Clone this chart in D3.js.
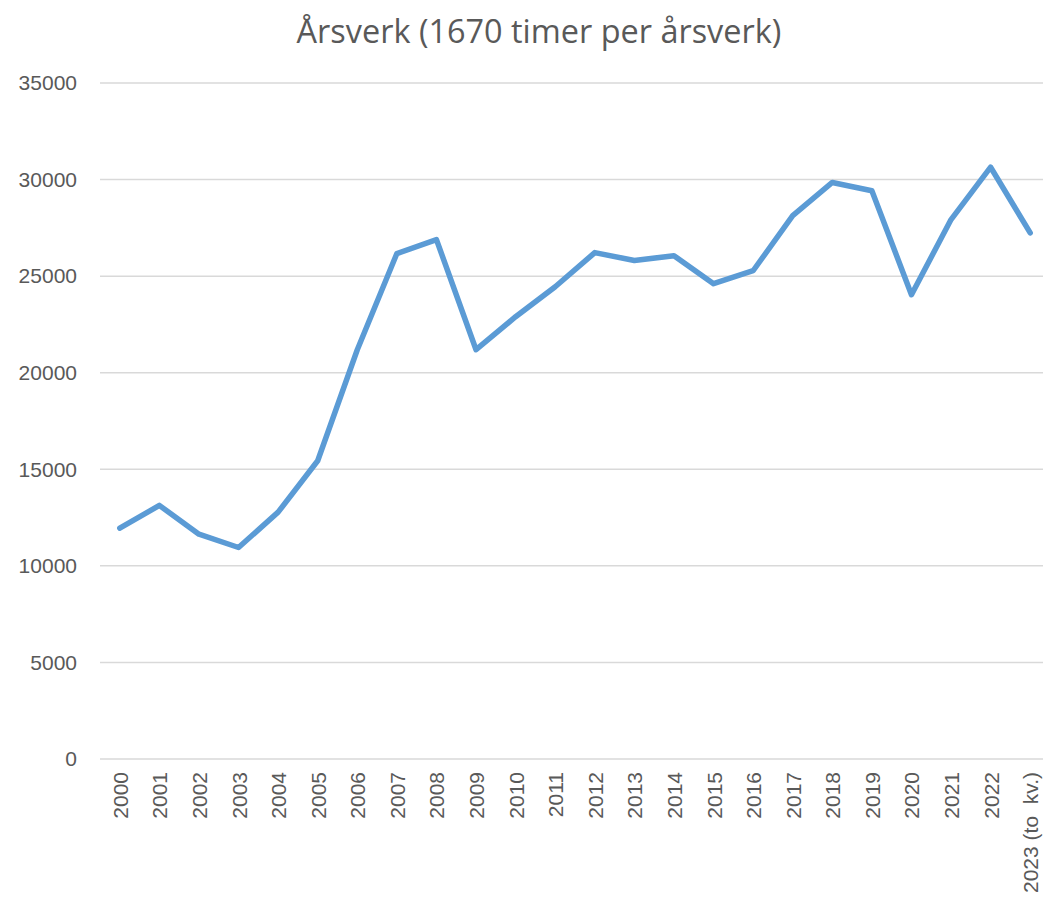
<!DOCTYPE html>
<html>
<head>
<meta charset="utf-8">
<script src="https://cdn.jsdelivr.net/npm/d3@7"></script>
<style>
  body { margin: 0; background: #fff; }
  svg { display: block; }
  text { white-space: pre; }
</style>
</head>
<body>
<div id="chart"></div>
<script>
// data
const years = ['2000','2001','2002','2003','2004','2005','2006','2007','2008','2009','2010','2011',
  '2012','2013','2014','2015','2016','2017','2018','2019','2020','2021','2022','2023 (to  kv.)']
const arsverk = [11950, 13130, 11640, 10950, 12780, 15440, 21190, 26170, 26890, 21190, 22900, 24450,
  26220, 25810, 26060, 24610, 25280, 28130, 29850, 29420, 24040, 27930, 30640, 27240]
const yTicks = [0, 5000, 10000, 15000, 20000, 25000, 30000, 35000]
const title = 'Årsverk (1670 timer per årsverk)'

const width = 1043
const height = 901
const margin = {top: 83, right: -7, bottom: 142, left: 100}

const svg = d3.select('#chart').append('svg')
  .attr('width', width)
  .attr('height', height)

const x = d3.scaleBand()
  .domain(years)
  .range([margin.left, width - margin.right])
  .padding(0)

const y = d3.scaleLinear()
  .domain([0, 35000])
  .range([height - margin.bottom, margin.top])

// gridlines
svg.append('g')
  .selectAll('line')
  .data(yTicks)
  .enter().append('line')
    .attr('x1', margin.left)
    .attr('x2', width)
    .attr('y1', d => y(d))
    .attr('y2', d => y(d))
    .attr('stroke', '#d9d9d9')
    .attr('stroke-width', 1.5)

// y labels
svg.append('g')
  .selectAll('text')
  .data(yTicks)
  .enter().append('text')
    .attr('x', 77)
    .attr('y', d => y(d))
    .attr('dy', '0.35em')
    .attr('text-anchor', 'end')
    .attr('font-family', 'Liberation Sans, Arial, sans-serif')
    .attr('font-size', 21)
    .attr('fill', '#595959')
    .text(d => d)

// x labels (rotated)
svg.append('g')
  .selectAll('text')
  .data(years)
  .enter().append('text')
    .attr('transform', d => `translate(${x(d) + x.bandwidth() / 2 + 8},${y(0) + 13}) rotate(-90)`)
    .attr('text-anchor', 'end')
    .attr('font-family', 'Liberation Sans, Arial, sans-serif')
    .attr('font-size', 21)
    .attr('fill', '#595959')
    .text(d => d)

// line
const line = d3.line()
  .x((d, i) => x(years[i]) + x.bandwidth() / 2)
  .y(d => y(d))

svg.append('path')
  .datum(arsverk)
  .attr('d', line)
  .attr('fill', 'none')
  .attr('stroke', '#5b9bd5')
  .attr('stroke-width', 5.5)
  .attr('stroke-linejoin', 'round')
  .attr('stroke-linecap', 'round')

// title
const t = svg.append('text')
  .attr('x', 539)
  .attr('y', 43)
  .attr('text-anchor', 'middle')
  .attr('font-family', 'Open Sans, sans-serif')
  .attr('font-size', 30)
  .attr('fill', '#595959')
  .text(title)
const tw = t.node().getComputedTextLength()
t.attr('font-size', 30 * 485 / tw)
</script>
</body>
</html>
